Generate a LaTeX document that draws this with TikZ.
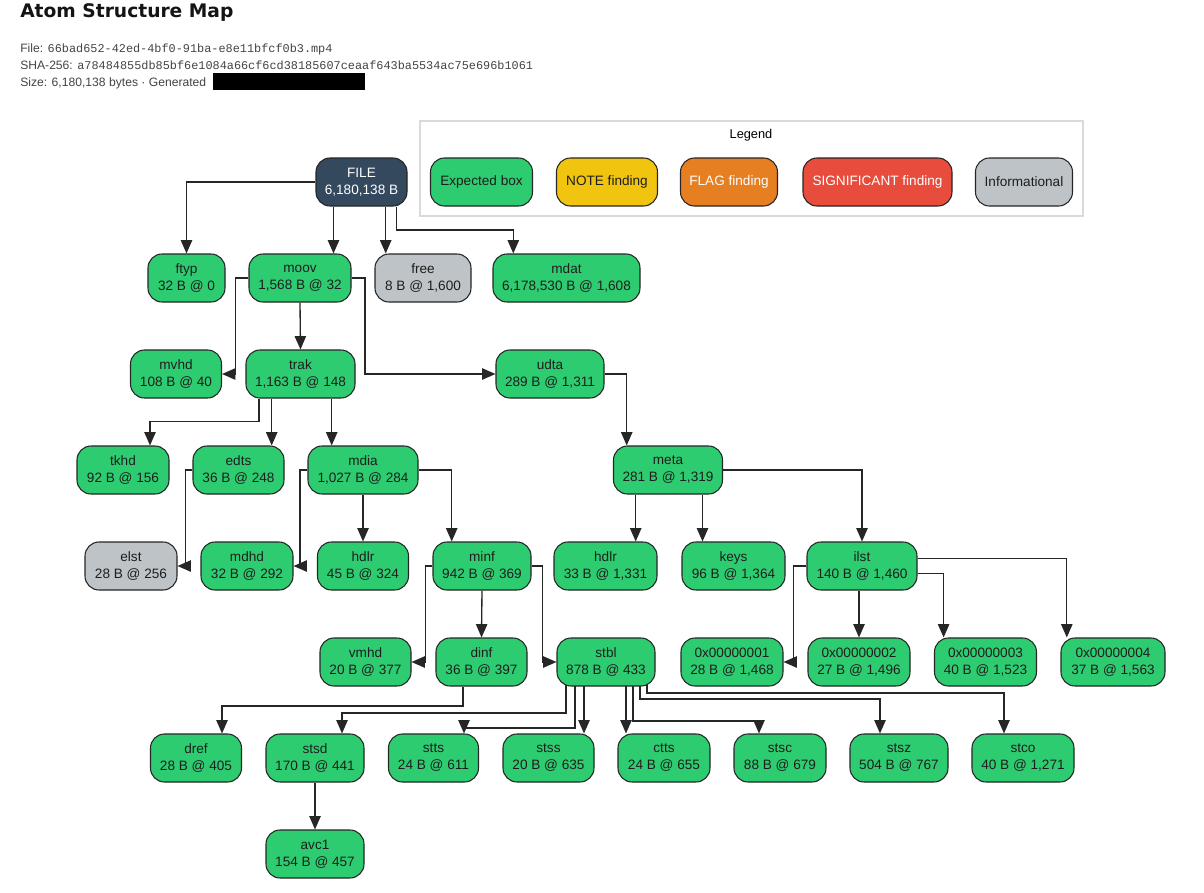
\documentclass[tikz,border=0pt]{standalone}
\usepackage{fontspec}
\setmainfont{Liberation Sans}
\newfontfamily\monof{Liberation Mono}
\newfontfamily\titlef{DejaVu Sans}
\usetikzlibrary{arrows.meta,backgrounds}
\definecolor{cgreen}{HTML}{2ECC71}
\definecolor{cyellow}{HTML}{F1C40F}
\definecolor{corange}{HTML}{E67E22}
\definecolor{cred}{HTML}{E74C3C}
\definecolor{cgrayb}{HTML}{BDC3C7}
\definecolor{cdark}{HTML}{34495E}
\definecolor{cleg}{HTML}{DADADA}
\definecolor{cmeta}{HTML}{444444}
\definecolor{ctext}{HTML}{1E1E1E}
\begin{document}
\begin{tikzpicture}[x=0.75pt,y=-0.75pt,
  box/.style={draw=black!85, line width=0.8pt, rounded corners=10.5pt, minimum height=36pt,
    inner sep=0pt, align=center, font=\fontsize{10.2}{12.75}\selectfont, text=ctext, fill=cgreen},
  wd/.style={minimum width=#1*0.75pt},
  infobox/.style={fill=cgrayb},
  edge/.style={draw=black!85, line width=1pt, -{Triangle[length=10pt,width=8.5pt]}},
  metatext/.style={anchor=base west, inner sep=0pt, text=cmeta, font=\fontsize{9.1}{11}\selectfont},
]
\useasboundingbox (0,0) rectangle (1204,893);

% header
\node[anchor=base west, inner sep=0pt, text=black!92, font=\titlef\bfseries\fontsize{14}{16}\selectfont] (title) at (20,17) {Atom Structure Map};
\node[metatext] (l1) at (20,52) {File: {\monof\fontsize{8.9}{11}\selectfont 66bad652-42ed-4bf0-91ba-e8e11bfcf0b3.mp4}};
\node[metatext] (l2) at (20,69) {SHA-256: {\monof\fontsize{8.9}{11}\selectfont a78484855db85bf6e1084a66cf6cd38185607ceaaf643ba5534ac75e696b1061}};
\node[metatext] (l3) at (20,86) {Size: 6,180,138 bytes · Generated};
\fill[black] (213,73) rectangle (365,90);

% legend
\draw[draw=cleg, line width=1.5pt] (420,121) rectangle (1083,216);
\node[font=\fontsize{9.6}{11}\selectfont, text=black] (legt) at (751,135) {Legend};
\node[box, wd=102] (lg1) at (481.5,182) {Expected box};
\node[box, wd=101, fill=cyellow] (lg2) at (607,182) {NOTE finding};
\node[box, wd=97, fill=corange, text=white] (lg3) at (729,182) {FLAG finding};
\node[box, wd=149, fill=cred, text=white] (lg4) at (877.5,182) {SIGNIFICANT finding};
\node[box, wd=97, infobox] (lg5) at (1024,182) {Informational};

% nodes
\node[box, wd=91, fill=cdark, text=white] (FILE) at (361.5,182) {FILE\\6,180,138 B};
\node[box, wd=77] (ftyp) at (186.5,278) {ftyp\\32 B @ 0};
\node[box, wd=102] (moov) at (300,278) {moov\\1,568 B @ 32};
\node[box, wd=96, infobox] (free) at (423,278) {free\\8 B @ 1,600};
\node[box, wd=147] (mdat) at (566.5,278) {mdat\\6,178,530 B @ 1,608};
\node[box, wd=91] (mvhd) at (176,374) {mvhd\\108 B @ 40};
\node[box, wd=109] (trak) at (300.5,374) {trak\\1,163 B @ 148};
\node[box, wd=108] (udta) at (550,374) {udta\\289 B @ 1,311};
\node[box, wd=92] (tkhd) at (123,470) {tkhd\\92 B @ 156};
\node[box, wd=91] (edts) at (238.5,470) {edts\\36 B @ 248};
\node[box, wd=110] (mdia) at (363,470) {mdia\\1,027 B @ 284};
\node[box, wd=109] (meta) at (668,470) {meta\\281 B @ 1,319};
\node[box, wd=92, infobox] (elst) at (131,566) {elst\\28 B @ 256};
\node[box, wd=92] (mdhd) at (247,566) {mdhd\\32 B @ 292};
\node[box, wd=91] (hdlrA) at (363,566) {hdlr\\45 B @ 324};
\node[box, wd=98] (minf) at (482,566) {minf\\942 B @ 369};
\node[box, wd=103] (hdlrB) at (605.5,566) {hdlr\\33 B @ 1,331};
\node[box, wd=103] (keys) at (733.5,566) {keys\\96 B @ 1,364};
\node[box, wd=110] (ilst) at (862,566) {ilst\\140 B @ 1,460};
\node[box, wd=91] (vmhd) at (365.5,662) {vmhd\\20 B @ 377};
\node[box, wd=91] (dinf) at (481.5,662) {dinf\\36 B @ 397};
\node[box, wd=98] (stbl) at (606,662) {stbl\\878 B @ 433};
\node[box, wd=102] (x1) at (732,662) {0x00000001\\28 B @ 1,468};
\node[box, wd=102] (x2) at (859,662) {0x00000002\\27 B @ 1,496};
\node[box, wd=102] (x3) at (985.5,662) {0x00000003\\40 B @ 1,523};
\node[box, wd=104] (x4) at (1113,662) {0x00000004\\37 B @ 1,563};
\node[box, wd=91] (dref) at (196,758) {dref\\28 B @ 405};
\node[box, wd=98] (stsd) at (315,758) {stsd\\170 B @ 441};
\node[box, wd=90] (stts) at (433.5,758) {stts\\24 B @ 611};
\node[box, wd=91] (stss) at (548.5,758) {stss\\20 B @ 635};
\node[box, wd=92] (ctts) at (664,758) {ctts\\24 B @ 655};
\node[box, wd=92] (stsc) at (780,758) {stsc\\88 B @ 679};
\node[box, wd=98] (stsz) at (899,758) {stsz\\504 B @ 767};
\node[box, wd=102] (stco) at (1023,758) {stco\\40 B @ 1,271};
\node[box, wd=98] (avc1) at (315,854) {avc1\\154 B @ 457};

\begin{pgfonlayer}{background}
\fill[white] (0,0) rectangle (1204,893);
% FILE
\draw[edge] (FILE.west) -| (ftyp.north);
\draw[edge] (FILE.south -| 333.5,0) -- (moov.north -| 333.5,0);
\draw[edge] (FILE.south -| 385.7,0) -- (free.north -| 385.7,0);
\draw[edge] (FILE.south -| 396.7,0) |- (513.3,230) -- (mdat.north -| 513.3,0);
% moov
\draw[edge] (moov.west) -| (mvhd.east -| 235.7,0) -- (mvhd.east);
\draw[edge] (moov.south) -- (trak.north);
\draw[edge] (moov.east) -| (udta.west -| 365,0) -- (udta.west);
% trak
\draw[edge] (trak.south -| 259,0) |- (150,421.7) -- (tkhd.north -| 150,0);
\draw[edge] (trak.south -| 271.7,0) -- (edts.north -| 271.7,0);
\draw[edge] (trak.south -| 331.7,0) -- (mdia.north -| 331.7,0);
% udta
\draw[edge] (udta.east) -| (meta.north -| 626.7,0);
% edts, mdia
\draw[edge] (edts.west) -| (elst.east -| 185.7,0) -- (elst.east);
\draw[edge] (mdia.west) -| (mdhd.east -| 300,0) -- (mdhd.east);
\draw[edge] (mdia.south) -- (hdlrA.north);
\draw[edge] (mdia.east) -| (minf.north -| 451.7,0);
% meta
\draw[edge] (meta.south -| 635.7,0) -- (hdlrB.north -| 635.7,0);
\draw[edge] (meta.south -| 702.5,0) -- (keys.north -| 702.5,0);
\draw[edge] (meta.east) -| (ilst.north);
% minf
\draw[edge] (minf.west) -| (vmhd.east -| 425.7,0) -- (vmhd.east);
\draw[edge] (minf.south) -- (dinf.north);
\draw[edge] (minf.east) -| (stbl.west -| 542.3,0) -- (stbl.west);
% ilst
\draw[edge] (ilst.west) -| (x1.east -| 793.6,0) -- (x1.east);
\draw[edge] (ilst.south -| 859,0) -- (x2.north -| 859,0);
\draw[edge] (ilst.east |- 0,573.7) -| (x3.north -| 943.6,0);
\draw[edge] (ilst.east |- 0,558.3) -| (x4.north -| 1066.8,0);
% dinf
\draw[edge] (dinf.south -| 463,0) |- (222,706) -- (dref.north -| 222,0);
% stbl
\draw[edge] (stbl.center -| 566,0) |- (342,713) -- (stsd.north -| 342,0);
\draw[edge] (stbl.center -| 575,0) |- (464,728) -- (stts.north -| 464,0);
\draw[edge] (stbl.center -| 584,0) -- (stss.north -| 584,0);
\draw[edge] (stbl.center -| 626,0) -- (ctts.north -| 626,0);
\draw[edge] (stbl.center -| 633,0) |- (759,721) -- (stsc.north -| 759,0);
\draw[edge] (stbl.center -| 640,0) |- (880,699) -- (stsz.north -| 880,0);
\draw[edge] (stbl.center -| 647,0) |- (1004,693) -- (stco.north -| 1004,0);
% stsd
\draw[edge] (stsd.south) -- (avc1.north);
\end{pgfonlayer}
\end{tikzpicture}
\end{document}
